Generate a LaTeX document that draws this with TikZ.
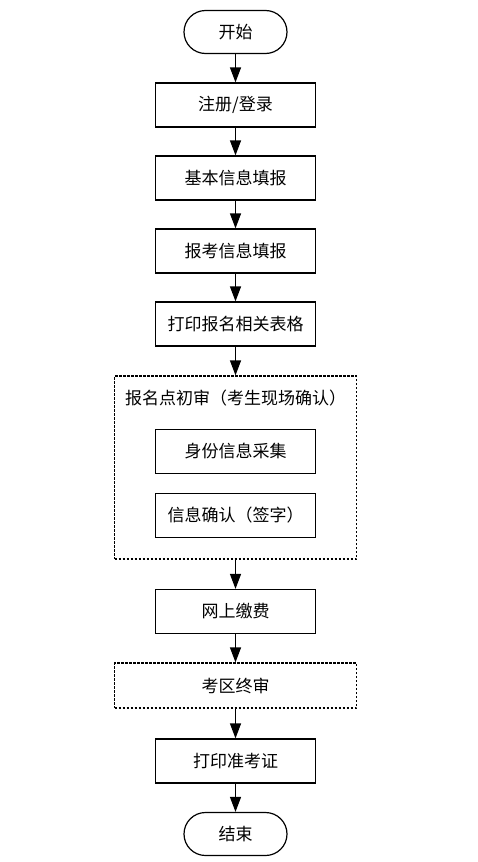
\documentclass[tikz,border=0pt]{standalone}
\usepackage{fontspec}
\newfontfamily\cjk{Noto Sans CJK SC}
\usepackage{tikz}
\usetikzlibrary{positioning}
\usetikzlibrary{arrows.meta}

\begin{document}
\begin{tikzpicture}[x=1pt,y=1pt,node distance=73pt,on grid,
        font=\cjk\fontsize{17}{20}\selectfont,
        >={Triangle[width=11pt,length=15pt]},
        term/.style={draw, line width=1.2pt, rounded corners=21.5pt, minimum width=103pt, minimum height=43pt},
        stepbox/.style={draw, line width=1.2pt, minimum width=160pt, minimum height=44pt},
        dashbox/.style={draw, line width=1.2pt, dash pattern=on 2.5pt off 1.5pt, minimum width=242pt, minimum height=45pt}]

        \useasboundingbox (0,0) rectangle (477,-862);

        \node[term]  (start) at (235.5,-32) {开始};

        \node[stepbox] (reg) [below=of start] {注册/登录};
        \node[stepbox] (basic) [below=of reg] {基本信息填报};
        \node[stepbox] (apply) [below=of basic] {报考信息填报};
        \node[stepbox] (print) [below=of apply] {打印报名相关表格};

        \node[dashbox, minimum height=183pt] (check) [below=of print, yshift=-70.5pt] {};
        \node[] (checktitle) [above=69.5pt of check] {报名点初审（考生现场确认）};
        \node[stepbox] (idinfo) [below=53.5pt of checktitle] {身份信息采集};
        \node[stepbox] (confirm) [below=64pt of idinfo] {信息确认（签字）};

        \node[stepbox] (pay) [below=96pt of confirm] {网上缴费};
        \node[dashbox] (final) [below=74pt of pay] {考区终审};
        \node[stepbox] (ticket) [below=75.5pt of final] {打印准考证};
        \node[term] (end) [below=of ticket] {结束};


        \path[->, line width=1.2pt]
        (start) edge [] node[] {} (reg)
        (reg) edge [] node[] {} (basic)
        (basic) edge [] node[] {} (apply)
        (apply) edge [] node[] {} (print)
        (print) edge [] node[] {} (check)
        (check) edge [] node[] {} (pay)
        (pay) edge [] node[] {} (final)
        (final) edge [] node[] {} (ticket)
        (ticket) edge [] node[] {} (end);

      \end{tikzpicture}
\end{document}
